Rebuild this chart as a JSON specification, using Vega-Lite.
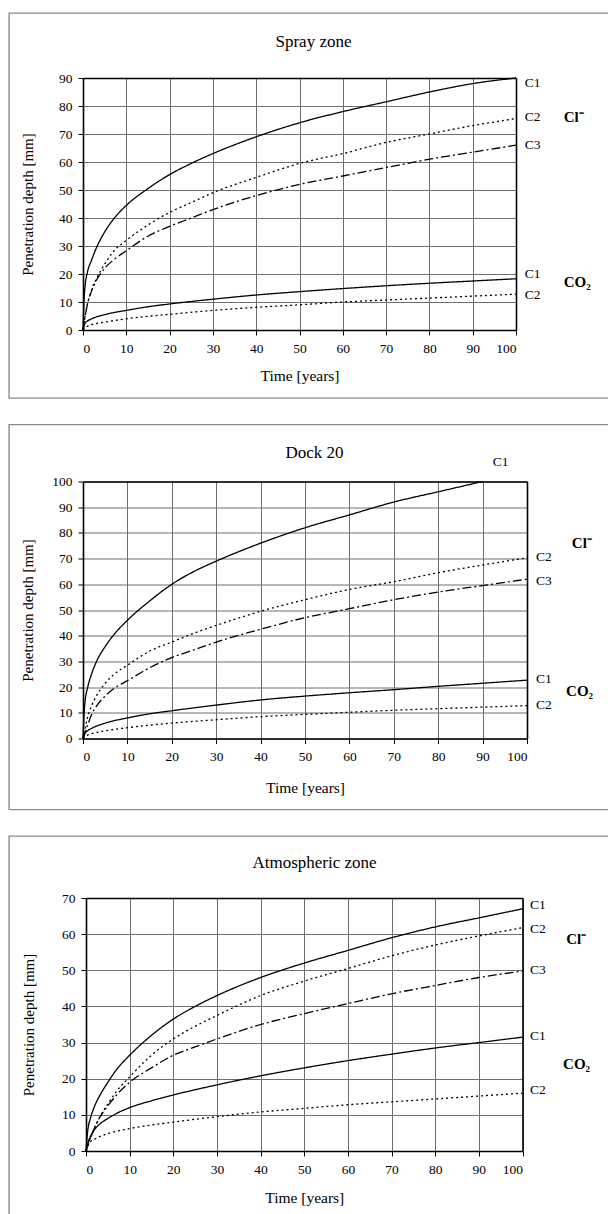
{
  "$schema": "https://vega.github.io/schema/vega-lite/v6.json",
  "padding": {"left": 8, "top": 12, "right": 0, "bottom": 0},
  "spacing": 24.5,
  "background": "white",
  "config": {
    "font": "Liberation Serif",
    "view": {"stroke": "#8a8a8a", "strokeWidth": 1.4, "strokeDash": [599, 385, 1000]},
    "axis": {"labelFont": "Liberation Serif", "labelFontSize": 13.5, "labelColor": "#000", "titleFont": "Liberation Serif", "titleFontSize": 15, "titleFontWeight": "normal", "titleColor": "#000", "domainColor": "#000", "domainWidth": 1.6, "tickColor": "#000", "tickSize": 5, "gridColor": "#6e6e6e", "gridWidth": 1, "gridOpacity": 1},
    "title": {"font": "Liberation Serif", "fontSize": 17, "fontWeight": "normal", "color": "#000"},
    "text": {"font": "Liberation Serif", "color": "#000"}
  },
  "datasets": {
    "spray": [
      {"t":0,"depth":0,"agent":"Cl","grade":"C1"},{"t":0.25,"depth":11,"agent":"Cl","grade":"C1"},{"t":0.5,"depth":16,"agent":"Cl","grade":"C1"},{"t":1,"depth":20.5,"agent":"Cl","grade":"C1"},{"t":2,"depth":25,"agent":"Cl","grade":"C1"},{"t":3,"depth":29,"agent":"Cl","grade":"C1"},{"t":5,"depth":35,"agent":"Cl","grade":"C1"},{"t":7,"depth":39.5,"agent":"Cl","grade":"C1"},{"t":10,"depth":44.5,"agent":"Cl","grade":"C1"},{"t":15,"depth":50.5,"agent":"Cl","grade":"C1"},{"t":20,"depth":55.5,"agent":"Cl","grade":"C1"},{"t":25,"depth":59.5,"agent":"Cl","grade":"C1"},{"t":30,"depth":63,"agent":"Cl","grade":"C1"},{"t":40,"depth":69,"agent":"Cl","grade":"C1"},{"t":50,"depth":74,"agent":"Cl","grade":"C1"},{"t":60,"depth":78,"agent":"Cl","grade":"C1"},{"t":70,"depth":81.5,"agent":"Cl","grade":"C1"},{"t":80,"depth":85,"agent":"Cl","grade":"C1"},{"t":90,"depth":88,"agent":"Cl","grade":"C1"},{"t":100,"depth":90,"agent":"Cl","grade":"C1"},
      {"t":0,"depth":0,"agent":"Cl","grade":"C2"},{"t":0.5,"depth":5,"agent":"Cl","grade":"C2"},{"t":1,"depth":9,"agent":"Cl","grade":"C2"},{"t":2,"depth":14.5,"agent":"Cl","grade":"C2"},{"t":3,"depth":18,"agent":"Cl","grade":"C2"},{"t":5,"depth":23.5,"agent":"Cl","grade":"C2"},{"t":7,"depth":28,"agent":"Cl","grade":"C2"},{"t":10,"depth":32,"agent":"Cl","grade":"C2"},{"t":15,"depth":37.5,"agent":"Cl","grade":"C2"},{"t":20,"depth":42,"agent":"Cl","grade":"C2"},{"t":25,"depth":45.5,"agent":"Cl","grade":"C2"},{"t":30,"depth":49,"agent":"Cl","grade":"C2"},{"t":40,"depth":54.5,"agent":"Cl","grade":"C2"},{"t":50,"depth":59.5,"agent":"Cl","grade":"C2"},{"t":60,"depth":63,"agent":"Cl","grade":"C2"},{"t":70,"depth":67,"agent":"Cl","grade":"C2"},{"t":80,"depth":70,"agent":"Cl","grade":"C2"},{"t":90,"depth":73,"agent":"Cl","grade":"C2"},{"t":100,"depth":75.5,"agent":"Cl","grade":"C2"},
      {"t":0,"depth":0,"agent":"Cl","grade":"C3"},{"t":0.5,"depth":5,"agent":"Cl","grade":"C3"},{"t":1,"depth":9,"agent":"Cl","grade":"C3"},{"t":2,"depth":14,"agent":"Cl","grade":"C3"},{"t":3,"depth":17.5,"agent":"Cl","grade":"C3"},{"t":5,"depth":22,"agent":"Cl","grade":"C3"},{"t":7,"depth":25,"agent":"Cl","grade":"C3"},{"t":10,"depth":28.3,"agent":"Cl","grade":"C3"},{"t":15,"depth":33.5,"agent":"Cl","grade":"C3"},{"t":20,"depth":37,"agent":"Cl","grade":"C3"},{"t":25,"depth":40,"agent":"Cl","grade":"C3"},{"t":30,"depth":43,"agent":"Cl","grade":"C3"},{"t":40,"depth":48,"agent":"Cl","grade":"C3"},{"t":50,"depth":52,"agent":"Cl","grade":"C3"},{"t":60,"depth":55,"agent":"Cl","grade":"C3"},{"t":70,"depth":58,"agent":"Cl","grade":"C3"},{"t":80,"depth":61,"agent":"Cl","grade":"C3"},{"t":90,"depth":63.5,"agent":"Cl","grade":"C3"},{"t":100,"depth":66,"agent":"Cl","grade":"C3"},
      {"t":0,"depth":0,"agent":"CO2","grade":"C1"},{"t":0.5,"depth":2.5,"agent":"CO2","grade":"C1"},{"t":1,"depth":3.2,"agent":"CO2","grade":"C1"},{"t":2,"depth":4,"agent":"CO2","grade":"C1"},{"t":5,"depth":5.5,"agent":"CO2","grade":"C1"},{"t":10,"depth":7,"agent":"CO2","grade":"C1"},{"t":15,"depth":8.3,"agent":"CO2","grade":"C1"},{"t":20,"depth":9.3,"agent":"CO2","grade":"C1"},{"t":30,"depth":11,"agent":"CO2","grade":"C1"},{"t":40,"depth":12.5,"agent":"CO2","grade":"C1"},{"t":50,"depth":13.7,"agent":"CO2","grade":"C1"},{"t":60,"depth":14.8,"agent":"CO2","grade":"C1"},{"t":70,"depth":15.8,"agent":"CO2","grade":"C1"},{"t":80,"depth":16.7,"agent":"CO2","grade":"C1"},{"t":90,"depth":17.5,"agent":"CO2","grade":"C1"},{"t":100,"depth":18.3,"agent":"CO2","grade":"C1"},
      {"t":0,"depth":0,"agent":"CO2","grade":"C2"},{"t":0.5,"depth":0.9,"agent":"CO2","grade":"C2"},{"t":1,"depth":1.3,"agent":"CO2","grade":"C2"},{"t":2,"depth":1.9,"agent":"CO2","grade":"C2"},{"t":5,"depth":2.8,"agent":"CO2","grade":"C2"},{"t":10,"depth":4,"agent":"CO2","grade":"C2"},{"t":15,"depth":4.9,"agent":"CO2","grade":"C2"},{"t":20,"depth":5.6,"agent":"CO2","grade":"C2"},{"t":30,"depth":7,"agent":"CO2","grade":"C2"},{"t":40,"depth":8.1,"agent":"CO2","grade":"C2"},{"t":50,"depth":9,"agent":"CO2","grade":"C2"},{"t":60,"depth":10,"agent":"CO2","grade":"C2"},{"t":70,"depth":10.7,"agent":"CO2","grade":"C2"},{"t":80,"depth":11.4,"agent":"CO2","grade":"C2"},{"t":90,"depth":12.1,"agent":"CO2","grade":"C2"},{"t":100,"depth":12.8,"agent":"CO2","grade":"C2"}
    ],
    "spray_labels": [
      {"t":102,"depth":88.2,"text":"C1"},{"t":102,"depth":76.1,"text":"C2"},{"t":102,"depth":66.1,"text":"C3"},{"t":102,"depth":20,"text":"C1"},{"t":102,"depth":12.5,"text":"C2"}
    ],
    "spray_agents": [
      {"t":111,"depth":76,"text":"Cl⁻"},{"t":111,"depth":17.1,"text":"CO₂"}
    ],
    "dock": [
      {"t":0,"depth":0,"agent":"Cl","grade":"C1"},{"t":0.25,"depth":10,"agent":"Cl","grade":"C1"},{"t":0.5,"depth":15,"agent":"Cl","grade":"C1"},{"t":1,"depth":19.5,"agent":"Cl","grade":"C1"},{"t":2,"depth":25.5,"agent":"Cl","grade":"C1"},{"t":3,"depth":29.8,"agent":"Cl","grade":"C1"},{"t":5,"depth":35.8,"agent":"Cl","grade":"C1"},{"t":7,"depth":40.5,"agent":"Cl","grade":"C1"},{"t":10,"depth":46,"agent":"Cl","grade":"C1"},{"t":15,"depth":53.5,"agent":"Cl","grade":"C1"},{"t":20,"depth":60,"agent":"Cl","grade":"C1"},{"t":25,"depth":65,"agent":"Cl","grade":"C1"},{"t":30,"depth":69,"agent":"Cl","grade":"C1"},{"t":40,"depth":76,"agent":"Cl","grade":"C1"},{"t":50,"depth":82,"agent":"Cl","grade":"C1"},{"t":60,"depth":87,"agent":"Cl","grade":"C1"},{"t":70,"depth":92,"agent":"Cl","grade":"C1"},{"t":80,"depth":96,"agent":"Cl","grade":"C1"},{"t":90,"depth":100,"agent":"Cl","grade":"C1"},
      {"t":0,"depth":0,"agent":"Cl","grade":"C2"},{"t":0.5,"depth":4,"agent":"Cl","grade":"C2"},{"t":1,"depth":8,"agent":"Cl","grade":"C2"},{"t":2,"depth":13,"agent":"Cl","grade":"C2"},{"t":3,"depth":16.5,"agent":"Cl","grade":"C2"},{"t":5,"depth":21.5,"agent":"Cl","grade":"C2"},{"t":7,"depth":25,"agent":"Cl","grade":"C2"},{"t":10,"depth":28.5,"agent":"Cl","grade":"C2"},{"t":15,"depth":34,"agent":"Cl","grade":"C2"},{"t":20,"depth":37.5,"agent":"Cl","grade":"C2"},{"t":25,"depth":41,"agent":"Cl","grade":"C2"},{"t":30,"depth":44,"agent":"Cl","grade":"C2"},{"t":40,"depth":49.5,"agent":"Cl","grade":"C2"},{"t":50,"depth":54,"agent":"Cl","grade":"C2"},{"t":60,"depth":58,"agent":"Cl","grade":"C2"},{"t":70,"depth":61,"agent":"Cl","grade":"C2"},{"t":80,"depth":64.5,"agent":"Cl","grade":"C2"},{"t":90,"depth":67.5,"agent":"Cl","grade":"C2"},{"t":100,"depth":70.3,"agent":"Cl","grade":"C2"},
      {"t":0,"depth":0,"agent":"Cl","grade":"C3"},{"t":0.5,"depth":2.5,"agent":"Cl","grade":"C3"},{"t":1,"depth":5,"agent":"Cl","grade":"C3"},{"t":2,"depth":9.5,"agent":"Cl","grade":"C3"},{"t":3,"depth":12.5,"agent":"Cl","grade":"C3"},{"t":5,"depth":16.5,"agent":"Cl","grade":"C3"},{"t":7,"depth":19.5,"agent":"Cl","grade":"C3"},{"t":10,"depth":22.5,"agent":"Cl","grade":"C3"},{"t":15,"depth":27.5,"agent":"Cl","grade":"C3"},{"t":20,"depth":31.5,"agent":"Cl","grade":"C3"},{"t":25,"depth":34.5,"agent":"Cl","grade":"C3"},{"t":30,"depth":37.5,"agent":"Cl","grade":"C3"},{"t":40,"depth":42.5,"agent":"Cl","grade":"C3"},{"t":50,"depth":47,"agent":"Cl","grade":"C3"},{"t":60,"depth":50.5,"agent":"Cl","grade":"C3"},{"t":70,"depth":54,"agent":"Cl","grade":"C3"},{"t":80,"depth":57,"agent":"Cl","grade":"C3"},{"t":90,"depth":59.5,"agent":"Cl","grade":"C3"},{"t":100,"depth":62,"agent":"Cl","grade":"C3"},
      {"t":0,"depth":0,"agent":"CO2","grade":"C1"},{"t":0.5,"depth":2.2,"agent":"CO2","grade":"C1"},{"t":1,"depth":3,"agent":"CO2","grade":"C1"},{"t":2,"depth":4,"agent":"CO2","grade":"C1"},{"t":5,"depth":6,"agent":"CO2","grade":"C1"},{"t":10,"depth":8,"agent":"CO2","grade":"C1"},{"t":15,"depth":9.6,"agent":"CO2","grade":"C1"},{"t":20,"depth":10.8,"agent":"CO2","grade":"C1"},{"t":30,"depth":13,"agent":"CO2","grade":"C1"},{"t":40,"depth":15,"agent":"CO2","grade":"C1"},{"t":50,"depth":16.5,"agent":"CO2","grade":"C1"},{"t":60,"depth":17.8,"agent":"CO2","grade":"C1"},{"t":70,"depth":19,"agent":"CO2","grade":"C1"},{"t":80,"depth":20.3,"agent":"CO2","grade":"C1"},{"t":90,"depth":21.5,"agent":"CO2","grade":"C1"},{"t":100,"depth":22.7,"agent":"CO2","grade":"C1"},
      {"t":0,"depth":0,"agent":"CO2","grade":"C2"},{"t":0.5,"depth":0.9,"agent":"CO2","grade":"C2"},{"t":1,"depth":1.3,"agent":"CO2","grade":"C2"},{"t":2,"depth":1.9,"agent":"CO2","grade":"C2"},{"t":5,"depth":3,"agent":"CO2","grade":"C2"},{"t":10,"depth":4.2,"agent":"CO2","grade":"C2"},{"t":15,"depth":5.2,"agent":"CO2","grade":"C2"},{"t":20,"depth":6,"agent":"CO2","grade":"C2"},{"t":30,"depth":7.3,"agent":"CO2","grade":"C2"},{"t":40,"depth":8.5,"agent":"CO2","grade":"C2"},{"t":50,"depth":9.4,"agent":"CO2","grade":"C2"},{"t":60,"depth":10.2,"agent":"CO2","grade":"C2"},{"t":70,"depth":11,"agent":"CO2","grade":"C2"},{"t":80,"depth":11.6,"agent":"CO2","grade":"C2"},{"t":90,"depth":12.2,"agent":"CO2","grade":"C2"},{"t":100,"depth":12.8,"agent":"CO2","grade":"C2"}
    ],
    "dock_labels": [
      {"t":92.3,"depth":107.4,"text":"C1"},{"t":102,"depth":70.8,"text":"C2"},{"t":102,"depth":61.1,"text":"C3"},{"t":102,"depth":23.3,"text":"C1"},{"t":102,"depth":13.2,"text":"C2"}
    ],
    "dock_agents": [
      {"t":110.1,"depth":75.9,"text":"Cl⁻"},{"t":108.8,"depth":18.3,"text":"CO₂"}
    ],
    "atmos": [
      {"t":0,"depth":0,"agent":"Cl","grade":"C1"},{"t":0.25,"depth":4,"agent":"Cl","grade":"C1"},{"t":0.5,"depth":6.5,"agent":"Cl","grade":"C1"},{"t":1,"depth":9,"agent":"Cl","grade":"C1"},{"t":2,"depth":12.5,"agent":"Cl","grade":"C1"},{"t":3,"depth":15,"agent":"Cl","grade":"C1"},{"t":5,"depth":19,"agent":"Cl","grade":"C1"},{"t":7,"depth":22.5,"agent":"Cl","grade":"C1"},{"t":10,"depth":26.5,"agent":"Cl","grade":"C1"},{"t":15,"depth":32,"agent":"Cl","grade":"C1"},{"t":20,"depth":36.5,"agent":"Cl","grade":"C1"},{"t":25,"depth":40,"agent":"Cl","grade":"C1"},{"t":30,"depth":43,"agent":"Cl","grade":"C1"},{"t":40,"depth":48,"agent":"Cl","grade":"C1"},{"t":50,"depth":52,"agent":"Cl","grade":"C1"},{"t":60,"depth":55.5,"agent":"Cl","grade":"C1"},{"t":70,"depth":59,"agent":"Cl","grade":"C1"},{"t":80,"depth":62,"agent":"Cl","grade":"C1"},{"t":90,"depth":64.5,"agent":"Cl","grade":"C1"},{"t":100,"depth":67,"agent":"Cl","grade":"C1"},
      {"t":0,"depth":0,"agent":"Cl","grade":"C2"},{"t":0.5,"depth":2,"agent":"Cl","grade":"C2"},{"t":1,"depth":3.5,"agent":"Cl","grade":"C2"},{"t":2,"depth":6.5,"agent":"Cl","grade":"C2"},{"t":3,"depth":9,"agent":"Cl","grade":"C2"},{"t":5,"depth":13,"agent":"Cl","grade":"C2"},{"t":7,"depth":16.5,"agent":"Cl","grade":"C2"},{"t":10,"depth":20.5,"agent":"Cl","grade":"C2"},{"t":15,"depth":26.5,"agent":"Cl","grade":"C2"},{"t":20,"depth":31,"agent":"Cl","grade":"C2"},{"t":25,"depth":34.5,"agent":"Cl","grade":"C2"},{"t":30,"depth":37.5,"agent":"Cl","grade":"C2"},{"t":40,"depth":43,"agent":"Cl","grade":"C2"},{"t":50,"depth":47,"agent":"Cl","grade":"C2"},{"t":60,"depth":50.5,"agent":"Cl","grade":"C2"},{"t":70,"depth":54,"agent":"Cl","grade":"C2"},{"t":80,"depth":57,"agent":"Cl","grade":"C2"},{"t":90,"depth":59.5,"agent":"Cl","grade":"C2"},{"t":100,"depth":61.8,"agent":"Cl","grade":"C2"},
      {"t":0,"depth":0,"agent":"Cl","grade":"C3"},{"t":0.5,"depth":2,"agent":"Cl","grade":"C3"},{"t":1,"depth":3.5,"agent":"Cl","grade":"C3"},{"t":2,"depth":6.5,"agent":"Cl","grade":"C3"},{"t":3,"depth":9,"agent":"Cl","grade":"C3"},{"t":5,"depth":12.5,"agent":"Cl","grade":"C3"},{"t":7,"depth":15.5,"agent":"Cl","grade":"C3"},{"t":10,"depth":19,"agent":"Cl","grade":"C3"},{"t":15,"depth":23,"agent":"Cl","grade":"C3"},{"t":20,"depth":26.5,"agent":"Cl","grade":"C3"},{"t":25,"depth":28.8,"agent":"Cl","grade":"C3"},{"t":30,"depth":31,"agent":"Cl","grade":"C3"},{"t":40,"depth":35,"agent":"Cl","grade":"C3"},{"t":50,"depth":38,"agent":"Cl","grade":"C3"},{"t":60,"depth":40.8,"agent":"Cl","grade":"C3"},{"t":70,"depth":43.5,"agent":"Cl","grade":"C3"},{"t":80,"depth":45.8,"agent":"Cl","grade":"C3"},{"t":90,"depth":48,"agent":"Cl","grade":"C3"},{"t":100,"depth":49.8,"agent":"Cl","grade":"C3"},
      {"t":0,"depth":0,"agent":"CO2","grade":"C1"},{"t":0.5,"depth":2.5,"agent":"CO2","grade":"C1"},{"t":1,"depth":4,"agent":"CO2","grade":"C1"},{"t":2,"depth":6,"agent":"CO2","grade":"C1"},{"t":3,"depth":7.3,"agent":"CO2","grade":"C1"},{"t":5,"depth":9,"agent":"CO2","grade":"C1"},{"t":7,"depth":10.4,"agent":"CO2","grade":"C1"},{"t":10,"depth":12,"agent":"CO2","grade":"C1"},{"t":15,"depth":13.9,"agent":"CO2","grade":"C1"},{"t":20,"depth":15.5,"agent":"CO2","grade":"C1"},{"t":30,"depth":18.3,"agent":"CO2","grade":"C1"},{"t":40,"depth":20.8,"agent":"CO2","grade":"C1"},{"t":50,"depth":23,"agent":"CO2","grade":"C1"},{"t":60,"depth":25,"agent":"CO2","grade":"C1"},{"t":70,"depth":26.8,"agent":"CO2","grade":"C1"},{"t":80,"depth":28.5,"agent":"CO2","grade":"C1"},{"t":90,"depth":30,"agent":"CO2","grade":"C1"},{"t":100,"depth":31.5,"agent":"CO2","grade":"C1"},
      {"t":0,"depth":0,"agent":"CO2","grade":"C2"},{"t":0.5,"depth":1.5,"agent":"CO2","grade":"C2"},{"t":1,"depth":2.5,"agent":"CO2","grade":"C2"},{"t":2,"depth":3.3,"agent":"CO2","grade":"C2"},{"t":5,"depth":4.8,"agent":"CO2","grade":"C2"},{"t":10,"depth":6.2,"agent":"CO2","grade":"C2"},{"t":15,"depth":7.2,"agent":"CO2","grade":"C2"},{"t":20,"depth":8,"agent":"CO2","grade":"C2"},{"t":30,"depth":9.5,"agent":"CO2","grade":"C2"},{"t":40,"depth":10.8,"agent":"CO2","grade":"C2"},{"t":50,"depth":11.8,"agent":"CO2","grade":"C2"},{"t":60,"depth":12.8,"agent":"CO2","grade":"C2"},{"t":70,"depth":13.6,"agent":"CO2","grade":"C2"},{"t":80,"depth":14.4,"agent":"CO2","grade":"C2"},{"t":90,"depth":15.2,"agent":"CO2","grade":"C2"},{"t":100,"depth":16,"agent":"CO2","grade":"C2"}
    ],
    "atmos_labels": [
      {"t":101.7,"depth":68.1,"text":"C1"},{"t":101.7,"depth":61.4,"text":"C2"},{"t":101.7,"depth":50.1,"text":"C3"},{"t":101.7,"depth":31.8,"text":"C1"},{"t":101.7,"depth":16.9,"text":"C2"}
    ],
    "atmos_agents": [
      {"t":110,"depth":58.7,"text":"Cl⁻"},{"t":109.3,"depth":24.1,"text":"CO₂"}
    ]
  },
  "vconcat": [
    {
      "width": 599, "height": 385,
      "title": {"text": "Spray zone", "anchor": "middle", "frame": "group", "offset": -38, "dx": 5},
      "resolve": {"axis": {"x": "independent", "y": "independent"}},
      "layer": [
        {
          "data": {"name": "spray"},
          "mark": {"type": "line", "interpolate": "monotone", "strokeWidth": 1.3, "color": "#000", "clip": true},
          "encoding": {
            "x": {"field": "t", "type": "quantitative", "scale": {"domain": [0, 100], "range": [74, 507], "nice": false, "zero": false}, "axis": {"orient": "bottom", "offset": -68, "values": [0,10,20,30,40,50,60,70,80,90,100], "grid": false, "title": "Time [years]", "titlePadding": 14, "labelPadding": 6, "labelFont": "Liberation Serif", "labelFontSize": 13.5, "labelColor": "#000", "titleFont": "Liberation Serif", "titleFontSize": 15.5, "titleFontWeight": "normal", "titleColor": "#000"}},
            "y": {"field": "depth", "type": "quantitative", "scale": {"domain": [0, 90], "range": [317, 65], "nice": false}, "axis": {"orient": "left", "offset": -74, "values": [0,10,20,30,40,50,60,70,80,90], "grid": true, "title": "Penetration depth [mm]", "titlePadding": 23, "labelPadding": 6, "labelFont": "Liberation Serif", "labelFontSize": 13.5, "labelColor": "#000", "titleFont": "Liberation Serif", "titleFontSize": 15, "titleFontWeight": "normal", "titleColor": "#000"}},
            "strokeDash": {"field": "grade", "type": "nominal", "scale": {"domain": ["C1", "C2", "C3"], "range": [[1, 0], [2, 3], [9, 3, 2, 3]]}, "legend": null},
            "detail": {"field": "agent", "type": "nominal"}
          }
        },
        {
          "data": {"name": "spray_labels"},
          "mark": {"type": "text", "align": "left", "baseline": "middle", "fontSize": 13.5, "font": "Liberation Serif"},
          "encoding": {
            "x": {"field": "t", "type": "quantitative", "scale": {"domain": [0, 100], "range": [74, 507], "nice": false, "zero": false}, "axis": {"orient": "top", "offset": -65, "values": [0,10,20,30,40,50,60,70,80,90,100], "grid": true, "labels": false, "ticks": false, "title": null}},
            "y": {"field": "depth", "type": "quantitative", "scale": {"domain": [0, 90], "range": [317, 65], "nice": false}, "axis": {"orient": "right", "offset": -92, "grid": false, "labels": false, "ticks": false, "title": null}},
            "text": {"field": "text"}
          }
        },
        {
          "data": {"name": "spray_agents"},
          "mark": {"type": "text", "align": "left", "baseline": "middle", "fontSize": 15, "fontWeight": "bold", "font": "Liberation Serif"},
          "encoding": {
            "x": {"field": "t", "type": "quantitative", "scale": {"domain": [0, 100], "range": [74, 507], "nice": false, "zero": false}, "axis": null},
            "y": {"field": "depth", "type": "quantitative", "scale": {"domain": [0, 90], "range": [317, 65], "nice": false}, "axis": null},
            "text": {"field": "text"}
          }
        }
      ]
    },
    {
      "width": 599, "height": 385,
      "title": {"text": "Dock 20", "anchor": "middle", "frame": "group", "offset": -37, "dx": 6},
      "resolve": {"axis": {"x": "independent", "y": "independent"}},
      "layer": [
        {
          "data": {"name": "dock"},
          "mark": {"type": "line", "interpolate": "monotone", "strokeWidth": 1.3, "color": "#000", "clip": true},
          "encoding": {
            "x": {"field": "t", "type": "quantitative", "scale": {"domain": [0, 100], "range": [74, 518], "nice": false, "zero": false}, "axis": {"orient": "bottom", "offset": -71, "values": [0,10,20,30,40,50,60,70,80,90,100], "grid": false, "title": "Time [years]", "titlePadding": 17, "labelPadding": 6, "labelFont": "Liberation Serif", "labelFontSize": 13.5, "labelColor": "#000", "titleFont": "Liberation Serif", "titleFontSize": 15.5, "titleFontWeight": "normal", "titleColor": "#000"}},
            "y": {"field": "depth", "type": "quantitative", "scale": {"domain": [0, 100], "range": [314, 57], "nice": false}, "axis": {"orient": "left", "offset": -74, "values": [0,10,20,30,40,50,60,70,80,90,100], "grid": true, "title": "Penetration depth [mm]", "titlePadding": 16, "labelPadding": 6, "labelFont": "Liberation Serif", "labelFontSize": 13.5, "labelColor": "#000", "titleFont": "Liberation Serif", "titleFontSize": 15, "titleFontWeight": "normal", "titleColor": "#000"}},
            "strokeDash": {"field": "grade", "type": "nominal", "scale": {"domain": ["C1", "C2", "C3"], "range": [[1, 0], [2, 3], [9, 3, 2, 3]]}, "legend": null},
            "detail": {"field": "agent", "type": "nominal"}
          }
        },
        {
          "data": {"name": "dock_labels"},
          "mark": {"type": "text", "align": "left", "baseline": "middle", "fontSize": 13.5, "font": "Liberation Serif"},
          "encoding": {
            "x": {"field": "t", "type": "quantitative", "scale": {"domain": [0, 100], "range": [74, 518], "nice": false, "zero": false}, "axis": {"orient": "top", "offset": -57, "values": [0,10,20,30,40,50,60,70,80,90,100], "grid": true, "labels": false, "ticks": false, "title": null}},
            "y": {"field": "depth", "type": "quantitative", "scale": {"domain": [0, 100], "range": [314, 57], "nice": false}, "axis": {"orient": "right", "offset": -81, "grid": false, "labels": false, "ticks": false, "title": null}},
            "text": {"field": "text"}
          }
        },
        {
          "data": {"name": "dock_agents"},
          "mark": {"type": "text", "align": "left", "baseline": "middle", "fontSize": 15, "fontWeight": "bold", "font": "Liberation Serif"},
          "encoding": {
            "x": {"field": "t", "type": "quantitative", "scale": {"domain": [0, 100], "range": [74, 518], "nice": false, "zero": false}, "axis": null},
            "y": {"field": "depth", "type": "quantitative", "scale": {"domain": [0, 100], "range": [314, 57], "nice": false}, "axis": null},
            "text": {"field": "text"}
          }
        }
      ]
    },
    {
      "width": 599, "height": 385,
      "title": {"text": "Atmospheric zone", "anchor": "middle", "frame": "group", "offset": -36, "dx": 6},
      "resolve": {"axis": {"x": "independent", "y": "independent"}},
      "layer": [
        {
          "data": {"name": "atmos"},
          "mark": {"type": "line", "interpolate": "monotone", "strokeWidth": 1.3, "color": "#000", "clip": true},
          "encoding": {
            "x": {"field": "t", "type": "quantitative", "scale": {"domain": [0, 100], "range": [77, 513.5], "nice": false, "zero": false}, "axis": {"orient": "bottom", "offset": -70, "values": [0,10,20,30,40,50,60,70,80,90,100], "grid": false, "title": "Time [years]", "titlePadding": 15, "labelPadding": 6, "labelFont": "Liberation Serif", "labelFontSize": 13.5, "labelColor": "#000", "titleFont": "Liberation Serif", "titleFontSize": 15.5, "titleFontWeight": "normal", "titleColor": "#000"}},
            "y": {"field": "depth", "type": "quantitative", "scale": {"domain": [0, 70], "range": [315, 62], "nice": false}, "axis": {"orient": "left", "offset": -77, "values": [0,10,20,30,40,50,60,70], "grid": true, "title": "Penetration depth [mm]", "titlePadding": 25, "labelPadding": 6, "labelFont": "Liberation Serif", "labelFontSize": 13.5, "labelColor": "#000", "titleFont": "Liberation Serif", "titleFontSize": 15, "titleFontWeight": "normal", "titleColor": "#000"}},
            "strokeDash": {"field": "grade", "type": "nominal", "scale": {"domain": ["C1", "C2", "C3"], "range": [[1, 0], [2, 3], [9, 3, 2, 3]]}, "legend": null},
            "detail": {"field": "agent", "type": "nominal"}
          }
        },
        {
          "data": {"name": "atmos_labels"},
          "mark": {"type": "text", "align": "left", "baseline": "middle", "fontSize": 13.5, "font": "Liberation Serif"},
          "encoding": {
            "x": {"field": "t", "type": "quantitative", "scale": {"domain": [0, 100], "range": [77, 513.5], "nice": false, "zero": false}, "axis": {"orient": "top", "offset": -62, "values": [0,10,20,30,40,50,60,70,80,90,100], "grid": true, "labels": false, "ticks": false, "title": null}},
            "y": {"field": "depth", "type": "quantitative", "scale": {"domain": [0, 70], "range": [315, 62], "nice": false}, "axis": {"orient": "right", "offset": -85.5, "grid": false, "labels": false, "ticks": false, "title": null}},
            "text": {"field": "text"}
          }
        },
        {
          "data": {"name": "atmos_agents"},
          "mark": {"type": "text", "align": "left", "baseline": "middle", "fontSize": 15, "fontWeight": "bold", "font": "Liberation Serif"},
          "encoding": {
            "x": {"field": "t", "type": "quantitative", "scale": {"domain": [0, 100], "range": [77, 513.5], "nice": false, "zero": false}, "axis": null},
            "y": {"field": "depth", "type": "quantitative", "scale": {"domain": [0, 70], "range": [315, 62], "nice": false}, "axis": null},
            "text": {"field": "text"}
          }
        }
      ]
    }
  ]
}
